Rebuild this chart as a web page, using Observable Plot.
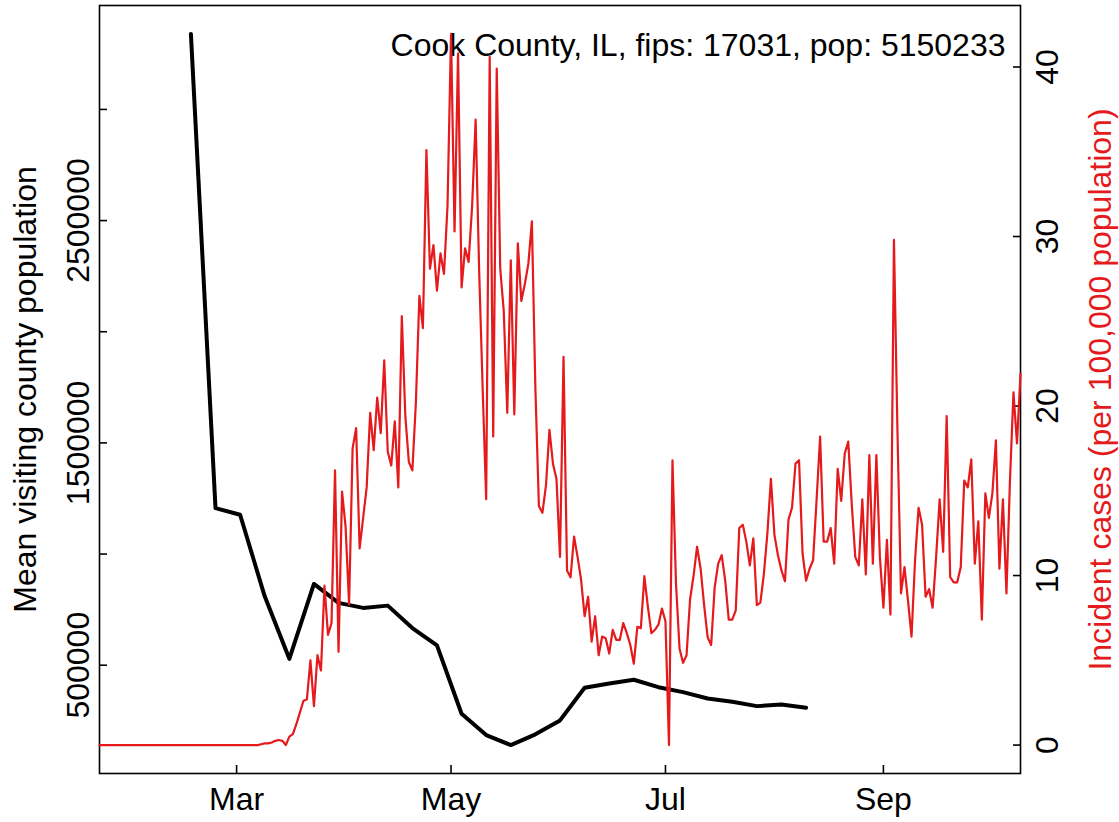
<!DOCTYPE html>
<html><head><meta charset="utf-8">
<script src="https://cdn.jsdelivr.net/npm/d3@7"></script>
<script src="https://cdn.jsdelivr.net/npm/@observablehq/plot@0.6"></script>
<style>
html,body{margin:0;padding:0;background:#fff;}
#chart{position:relative;width:1119px;height:822px;}
#chart svg{position:absolute;left:0;top:0;}
</style></head><body><div id="chart"></div>
<script>
// ---- data ----
const countyTitle = "Cook County, IL, fips: 17031, pop: 5150233";
const leftTitle = "Mean visiting county population";
const rightTitle = "Incident cases (per 100,000 population)";

// daily incident cases per 100,000, starting 2020-01-22
const caseStart = "2020-01-22";
const caseValues = [
  0,0,0,0,0,0,0,0,0,0, 0,0,0,0,0,0,0,0,0,0,
  0,0,0,0,0,0,0,0,0,0, 0,0,0,0,0,0,0,0,0,0,
  0,0,0,0,0,0,
  0.05,0.1,0.1,0.15,0.25,0.3,0.25,0.0,0.5,0.64,
  1.23,1.91,2.6,2.7,5.0,2.3,5.3,4.4,9.4,6.5,
  7.2,16.2,5.5,14.95,12.9,8.3,17.5,18.7,11.6,13.4,
  15.2,19.6,17.4,20.5,18.4,22.7,17.3,16.5,19.1,15.2,
  25.3,19.4,16.7,16.2,20.2,26.5,24.6,35.1,28.1,29.5,
  26.8,29.0,27.8,31.8,41.95,30.3,40.8,27.0,29.3,28.5,
  31.8,36.9,28.0,21.0,14.5,40.6,18.2,39.9,28.1,25.6,
  19.6,28.6,19.5,29.6,26.2,27.2,28.4,30.9,21.0,14.1,
  13.7,15.3,18.6,16.6,15.7,11.1,22.9,10.3,9.9,12.3,
  11.1,9.75,7.6,8.75,6.1,7.6,5.3,6.4,6.3,5.4,
  6.8,6.2,6.2,7.2,6.6,5.9,4.8,6.97,6.9,9.96,
  8.15,6.6,6.8,7.1,8.05,7.3,0,16.8,9.5,5.7,
  4.85,5.3,8.6,10.0,11.7,10.4,8.25,6.35,5.9,9.3,
  10.7,11.2,9.7,7.4,7.4,7.95,12.8,13.0,12.0,10.6,
  12.2,8.25,8.4,10.1,12.5,15.7,12.4,11.2,10.3,9.66,
  13.3,14.0,16.6,16.8,11.3,9.7,10.4,10.9,14.5,18.2,
  12.0,12.0,12.8,10.7,16.3,14.4,17.2,17.9,14.2,11.1,
  10.6,14.5,10.06,17.1,10.7,17.1,11.1,8.1,12.1,7.7,
  29.8,18.5,8.95,10.5,8.5,6.4,10.9,14.0,13.0,8.75,
  9.2,8.1,11.1,14.5,11.4,19.4,9.9,9.6,9.6,10.5,
  15.6,15.2,16.85,10.7,13.2,7.4,14.85,13.4,14.85,17.97,
  10.4,14.5,8.95,15.6,20.8,17.8,21.9
];

// weekly mean visiting county population
const mobilityDates = [
  "2020-02-17","2020-02-24","2020-03-02","2020-03-09","2020-03-16","2020-03-23",
  "2020-03-30","2020-04-06","2020-04-13","2020-04-20","2020-04-27","2020-05-04",
  "2020-05-11","2020-05-18","2020-05-25","2020-06-01","2020-06-08","2020-06-15",
  "2020-06-22","2020-06-29","2020-07-06","2020-07-13","2020-07-20","2020-07-27",
  "2020-08-03","2020-08-10"
];
const mobilityValues = [
  3339500,1206700,1176600,809800,528700,865500,
  780200,757700,768000,667000,589000,281800,
  185700,140800,188900,251700,398500,417800,
  434400,401200,378800,350400,335600,315900,
  323500,308700
];

const monthTicks = ["2020-03-01","2020-05-01","2020-07-01","2020-09-01"];
const leftTicks = [500000,1000000,1500000,2000000,2500000,3000000];
const leftLabels = [500000,1500000,2500000];
const rightTicks = [0,10,20,30,40];

// ---- build ----
const parse = d3.utcParse("%Y-%m-%d");
const start = parse(caseStart);
const cases = caseValues.map((v, i) => ({date: d3.utcDay.offset(start, i), value: v}));
const mobility = mobilityDates.map((d, i) => ({date: parse(d), value: mobilityValues[i]}));
const ext = ([a, b]) => { const p = (b - a) * 0.04; return [a - p, b + p]; };
const xDomain = [cases[0].date, cases[cases.length - 1].date];
const RED = "#e41a1c";
const FONT = "'Liberation Sans', Arial, Helvetica, sans-serif";
const FS = 32;

const common = {
  width: 1119, height: 822,
  marginLeft: 99, marginRight: 99, marginTop: 5, marginBottom: 49,
};

const back = Plot.plot({
  ...common,
  style: {fontFamily: FONT, fontSize: FS + "px", background: "white", overflow: "visible"},
  x: {type: "utc", domain: xDomain},
  y: {domain: ext(d3.extent(mobilityValues))},
  marks: [
    Plot.text([countyTitle], {text: d => d, frameAnchor: "top-right", textAnchor: "end", lineAnchor: "top", dx: -15, dy: 28, fontSize: FS, fill: "black"}),
    Plot.line(mobility, {x: "date", y: "value", stroke: "black", strokeWidth: 4, strokeLinejoin: "round"}),
    Plot.frame({stroke: "black", strokeWidth: 1.6}),
    Plot.axisX(monthTicks.map(parse), {anchor: "bottom", tickFormat: d3.utcFormat("%b"), tickSize: -8, tickPadding: 22, label: null, strokeWidth: 1.6, fill: "black"}),
    Plot.axisY(leftTicks, {anchor: "left", tickFormat: d => leftLabels.includes(d) ? String(d) : "", tickSize: -8, tickPadding: 19, tickRotate: -90, label: null, strokeWidth: 1.6, fill: "black"}),
    Plot.text([leftTitle], {text: d => d, frameAnchor: "left", textAnchor: "middle", rotate: -90, lineAnchor: "bottom", dx: -64, dy: 0, fontSize: FS, fill: "black"})
  ]
});

const front = Plot.plot({
  ...common,
  style: {fontFamily: FONT, fontSize: FS + "px", background: "transparent", overflow: "visible"},
  x: {type: "utc", domain: xDomain, axis: null},
  y: {domain: ext(d3.extent(caseValues))},
  marks: [
    Plot.axisY(rightTicks, {anchor: "right", tickSize: -8, tickPadding: 45, tickRotate: -90, label: null, strokeWidth: 1.6, fill: "black"}),
    Plot.line(cases, {x: "date", y: "value", stroke: RED, strokeWidth: 2.2, strokeLinejoin: "round"}),
    Plot.text([rightTitle], {text: d => d, frameAnchor: "right", textAnchor: "middle", rotate: -90, lineAnchor: "bottom", dx: 90, dy: 0, fontSize: FS, fill: RED})
  ]
});

const chart = document.getElementById("chart");
chart.appendChild(back);
chart.appendChild(front);
</script></body></html>
